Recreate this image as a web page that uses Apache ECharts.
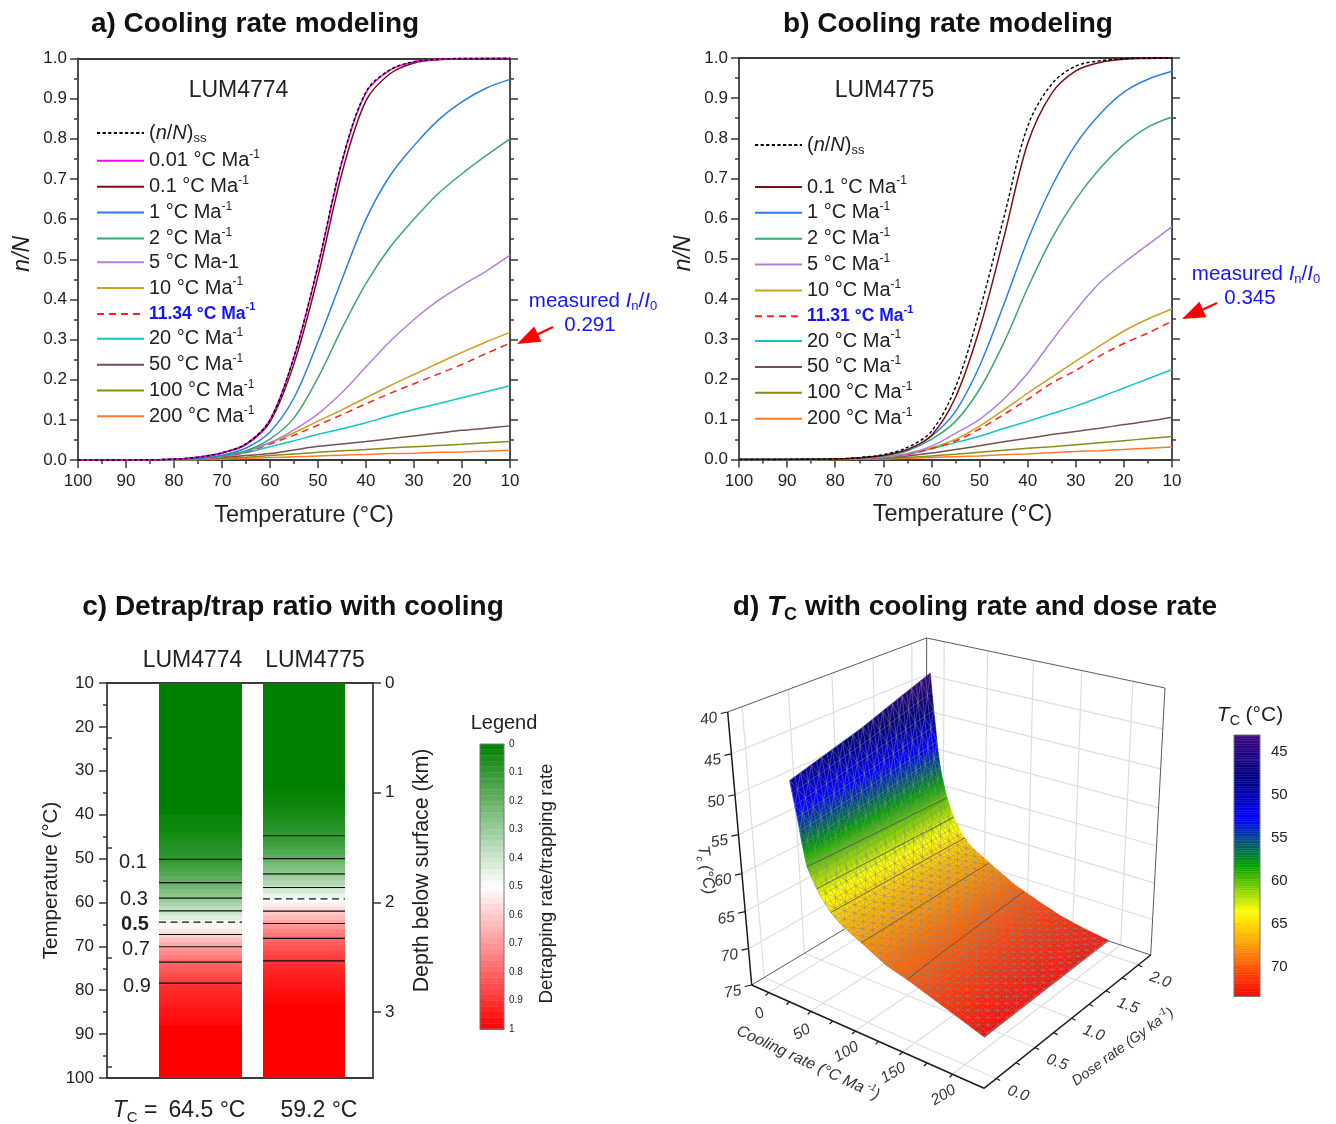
<!DOCTYPE html>
<html>
<head>
<meta charset="utf-8">
<style>html,body{margin:0;padding:0;background:#fff}#c{width:1336px;height:1124px}</style>
<script src="https://cdn.jsdelivr.net/npm/echarts@6/dist/echarts.min.js"></script>
</head>
<body>
<div id="c"></div>
<script>
// ---------- panels a and b: n/N against temperature ----------
const temps = [100,90,80,75,70,65,60,55,50,45,40,35,30,25,20,15,10];
const aSS   = [0,.0003,.002,.007,.018,.04,.1,.258,.485,.745,.917,.972,.992,.998,1,1,1];
const a001  = [0,.0003,.002,.007,.018,.04,.1,.256,.482,.742,.915,.971,.992,.998,1,1,1];
const a01   = [0,.0003,.002,.007,.017,.038,.095,.24,.458,.715,.895,.962,.989,.997,.999,1,1];
const a1    = [0,.0003,.0015,.004,.012,.03,.07,.155,.295,.45,.6,.708,.783,.846,.892,.926,.948];
const a2    = [0,.0002,.001,.004,.01,.023,.052,.105,.205,.328,.44,.53,.6,.663,.713,.758,.8];
const a5    = [0,.0002,.001,.004,.01,.022,.043,.075,.115,.168,.232,.295,.35,.397,.435,.47,.51];
const a10   = [0,.0002,.001,.003,.009,.021,.043,.068,.097,.125,.155,.185,.213,.241,.268,.294,.318];
const aFit  = [0,.0002,.001,.003,.008,.02,.04,.062,.087,.113,.14,.166,.19,.214,.238,.265,.291];
const a20   = [0,.0001,.001,.002,.008,.018,.033,.048,.064,.078,.093,.11,.126,.14,.155,.17,.185];
const a50   = [0,.0001,.0005,.002,.006,.011,.016,.025,.034,.04,.046,.053,.06,.067,.074,.079,.085];
const a100  = [0,.0001,.0003,.001,.004,.007,.011,.015,.019,.023,.026,.03,.033,.036,.039,.043,.046];
const a200  = [0,0,.0002,.001,.002,.004,.006,.008,.01,.012,.014,.016,.017,.019,.02,.022,.024];

const bSS   = [0,.0003,.0015,.005,.012,.03,.07,.18,.37,.6,.83,.935,.98,.993,.998,1,1];
const b01   = [0,.0003,.001,.004,.01,.025,.06,.155,.325,.55,.787,.912,.968,.989,.997,.999,1];
const b1    = [0,.0002,.001,.004,.01,.024,.058,.12,.233,.385,.546,.68,.785,.86,.915,.947,.967];
const b2    = [0,.0002,.001,.004,.009,.022,.05,.095,.175,.29,.427,.55,.648,.725,.785,.828,.853];
const b5    = [0,.0002,.001,.003,.007,.015,.033,.065,.1,.15,.215,.295,.372,.44,.49,.535,.58];
const b10   = [0,.0002,.001,.002,.006,.014,.029,.05,.083,.123,.165,.205,.245,.283,.32,.35,.375];
const bFit  = [0,.0001,.001,.002,.006,.013,.027,.046,.076,.112,.15,.19,.222,.258,.289,.315,.345];
const b20   = [0,.0001,.0005,.002,.005,.012,.027,.042,.058,.077,.095,.114,.133,.155,.178,.201,.224];
const b50   = [0,.0001,.0005,.002,.004,.009,.016,.025,.034,.044,.053,.062,.07,.078,.087,.095,.105];
const b100  = [0,.0001,.0002,.001,.002,.005,.009,.013,.018,.023,.028,.032,.037,.042,.047,.052,.057];
const b200  = [0,0,.0001,.0005,.001,.003,.005,.007,.009,.012,.014,.017,.02,.022,.025,.028,.031];

// ---------- panel c: detrapping/trapping ratio per 1 degree band, starting at 10 degrees ----------
const bandWidth = 1;
const lum4774Ratio = [0,0,0,0,0,0,0,0,0,0,0,0,0,0,0,0,0,0,0,0,0,0,0,0,0,0,0,0,0,0,
  .02,.02,.03,.03,.04,.05,.06,.07,.08,.09,.1,.12,.14,.16,.18,.195,.22,.25,.27,.3,.335,.37,.405,.44,.48,.52,.555,.59,.63,.665,
  .7,.73,.76,.79,.81,.83,.85,.87,.89,.91,.92,.93,.94,.95,.96,.965,.97,.98,1,1,1,1,1,1,1,1,1,1,1,1];
const lum4775Ratio = [0,0,0,0,0,0,0,0,0,0,0,0,0,0,0,0,0,0,0,0,0,0,0,0,
  .01,.01,.02,.02,.03,.04,.05,.06,.07,.08,.095,.105,.12,.14,.16,.18,.205,.235,.26,.29,.32,.35,.385,.42,.46,.495,.535,.57,.605,.64,.675,.71,.74,.77,.8,.82,
  .84,.86,.88,.895,.91,.925,.935,.945,.955,.96,.97,.98,.99,1,1,1,1,1,1,1,1,1,1,1,1,1,1,1,1,1];
const contourLevels = [.1,.2,.3,.4,.5,.6,.7,.8,.9];
const lum4774Contours = [50.2,55.5,59,61.9,64.5,67.3,70.1,73.6,78.4];
const lum4775Contours = [44.8,50,53.5,56.6,59.2,62,64.8,68.2,73.3];

// ---------- panel d: closure temperature surface ----------
const coolRows = [1,2,3,4,5,7.5,10,12.5,15,20,25,30,40,50,75,100,125,150,175,200];
const tcDoseLow  = [49.5,50.3,51,51.8,52.5,54.3,56.5,58.4,60,61.3,62.5,63.5,65,66,67.6,69.2,70.1,71.2,72.3,73.4];
const tcDoseMid  = [46.9,47.9,48.8,49.7,50.6,52.8,55.2,57.1,58.7,60.5,62,63.2,64.9,66,67.7,69.3,70.4,71.5,72.4,73.2];
const tcDoseHigh = [43.4,44.6,45.9,47.1,48.3,50.8,53.6,55.6,57.2,59.6,61.4,62.7,64.7,66,67.8,69.5,70.7,71.8,72.5,73];
const doseCols = [.25,1.1,2];
const coolTicks = [0,50,100,150,200];
const doseTicks = [0,.5,1,1.5,2];
const tempTicks = [40,45,50,55,60,65,70,75];
const tcContours = [60,62.5,65,67.5,70];
const tcBarTicks = [45,50,55,60,65,70];
const tcBarMinor = [47.5,52.5,57.5,62.5,67.5,72.5];

// ---------- style ----------
const FONT = '"Liberation Sans", Arial, sans-serif';
const INK = '#222';
const AX = '#3a3a3a';
const palette = {ss:'#000000',r001:'#ff00ff',r01:'#7d0f0f',r1:'#2a7fe8',r2:'#3aa76d',r5:'#b57edc',r10:'#cf9f20',fit:'#ff1f1f',r20:'#12c4c4',r50:'#7a4f50',r100:'#8b8b18',r200:'#ff7a2a'};
const N = {ss:'(n/N)ss',r001:'0.01 °C Ma-1',r01:'0.1 °C Ma-1',r1:'1 °C Ma-1',r2:'2 °C Ma-1',r5:'5 °C Ma-1',r10:'10 °C Ma-1',r20:'20 °C Ma-1',r50:'50 °C Ma-1',r100:'100 °C Ma-1',r200:'200 °C Ma-1'};
const legendRich = {
  n:{fontSize:20,lineHeight:24,color:INK},
  i:{fontSize:20,lineHeight:24,color:INK,fontStyle:'italic'},
  s:{fontSize:12,lineHeight:13,color:INK,verticalAlign:'top'},
  d:{fontSize:13,lineHeight:13,color:INK,verticalAlign:'bottom'},
  b:{fontSize:17.5,lineHeight:24,color:'#1414ff',fontWeight:'bold'},
  bs:{fontSize:11,lineHeight:13,color:'#1414ff',fontWeight:'bold',verticalAlign:'top'}
};
function legendFmt(name){
  if(name==='(n/N)ss') return '{n|(}{i|n}{n|/}{i|N}{n|)}{d|ss}';
  if(name==='11.34 °C Ma-1'||name==='11.31 °C Ma-1') return '{b|'+name.slice(0,-2)+'}{bs|-1}';
  return '{n|'+name.slice(0,-2)+'}{s|-1}';
}
function legendFmtA(name){ return name==='5 °C Ma-1' ? '{n|5 °C Ma-1}' : legendFmt(name); }

function lineSeries(name,vals,color,axis,dash,width){
  return {type:'line',name:name,xAxisIndex:axis.x,yAxisIndex:axis.y,
    data:temps.map((t,i)=>[t,vals[i]]),smooth:.33,symbol:'none',showSymbol:false,
    lineStyle:{color:color,width:width||1.5,type:dash||'solid'},itemStyle:{color:color},
    animation:false,silent:true,clip:false,z:3};
}
const dashSS=[3.2,2.4], dashFit=[7,5];
const axA={x:0,y:0}, axB={x:2,y:2};
const seriesA=[
  lineSeries(N.r200,a200,palette.r200,axA),lineSeries(N.r100,a100,palette.r100,axA),lineSeries(N.r50,a50,palette.r50,axA),
  lineSeries(N.r20,a20,palette.r20,axA),lineSeries(N.r10,a10,palette.r10,axA),lineSeries('11.34 °C Ma-1',aFit,palette.fit,axA,dashFit),
  lineSeries(N.r5,a5,palette.r5,axA),lineSeries(N.r2,a2,palette.r2,axA),lineSeries(N.r1,a1,palette.r1,axA),
  lineSeries(N.r01,a01,palette.r01,axA),lineSeries(N.r001,a001,palette.r001,axA,null,1.6),lineSeries(N.ss,aSS,palette.ss,axA,dashSS,1.4)
];
const seriesB=[
  lineSeries(N.r200,b200,palette.r200,axB),lineSeries(N.r100,b100,palette.r100,axB),lineSeries(N.r50,b50,palette.r50,axB),
  lineSeries(N.r20,b20,palette.r20,axB),lineSeries(N.r10,b10,palette.r10,axB),lineSeries('11.31 °C Ma-1',bFit,palette.fit,axB,dashFit),
  lineSeries(N.r5,b5,palette.r5,axB),lineSeries(N.r2,b2,palette.r2,axB),lineSeries(N.r1,b1,palette.r1,axB),
  lineSeries(N.r01,b01,palette.r01,axB),lineSeries(N.ss,bSS,palette.ss,axB,dashSS,1.4)
];
function legendBlock(left,top,names,fmt){
  return {left:left,top:top,orient:'vertical',padding:0,itemWidth:47,itemHeight:14,itemGap:3.85,
    itemStyle:{color:'transparent',borderColor:'transparent',borderWidth:0,opacity:0},
    selectedMode:false,formatter:fmt,textStyle:{fontFamily:FONT,rich:legendRich},data:names.map(n=>({name:n}))};
}

// ---------- axes helpers ----------
const tickLab={color:INK,fontSize:17,fontFamily:FONT};
const axLine=(w)=>({show:true,onZero:false,lineStyle:{color:AX,width:w||1.8}});
function tempAxisX(grid,name,shift){
  return {type:'value',gridIndex:grid,position:'bottom',inverse:true,min:10,max:100,interval:10,
    name:name,nameLocation:'middle',nameGap:44,nameTextStyle:{color:INK,fontSize:23.4,fontFamily:FONT,padding:[0,0,0,shift]},
    axisLine:axLine(),axisTick:{show:true,length:8,inside:false,lineStyle:{color:AX,width:1.5}},
    minorTick:{show:true,splitNumber:2,length:4,lineStyle:{color:AX,width:1.5}},
    axisLabel:Object.assign({margin:13,hideOverlap:false,showMinLabel:true,showMaxLabel:true},tickLab),splitLine:{show:false},minorSplitLine:{show:false}};
}
function lineOnlyX(grid,pos,color,w){
  return {type:'value',gridIndex:grid,position:pos,min:0,max:1,axisLine:{show:true,onZero:false,lineStyle:{color:color||AX,width:w||1.8}},axisTick:{show:false},axisLabel:{show:false},splitLine:{show:false}};
}
function nAxisY(grid,pos,showLabel){
  return {type:'value',gridIndex:grid,position:pos,min:0,max:1,interval:.1,
    name:showLabel?'n/N':'',nameLocation:'middle',nameGap:44,nameRotate:90,nameTextStyle:{color:INK,fontSize:23,fontStyle:'italic',fontFamily:FONT,padding:[0,0,0,11]},
    axisLine:axLine(),axisTick:{show:true,length:8,lineStyle:{color:AX,width:1.5}},
    minorTick:{show:true,splitNumber:2,length:4,lineStyle:{color:AX,width:1.5}},
    axisLabel:Object.assign({show:showLabel,margin:11,formatter:v=>v.toFixed(1)},tickLab),splitLine:{show:false},minorSplitLine:{show:false}};
}

// ---------- colour scales ----------
function hexLerp(a,b,t){return [0,1,2].map(i=>Math.round(a[i]+(b[i]-a[i])*t));}
function ratioColor(r){
  const c=r<.5?hexLerp([0,128,0],[255,255,255],r/.5):hexLerp([255,255,255],[255,0,0],(r-.5)/.5);
  return 'rgb('+c.join(',')+')';
}
const tcStops=[[43.1,[60,8,130]],[48,[0,0,128]],[52.8,[0,0,255]],[58.2,[0,160,0]],[63.6,[255,255,0]],[73.44,[255,0,0]]];
function tcColor(t){
  if(t<=tcStops[0][0]) return 'rgb('+tcStops[0][1].join(',')+')';
  for(let i=1;i<tcStops.length;i++){ if(t<=tcStops[i][0]){
    const c=hexLerp(tcStops[i-1][1],tcStops[i][1],(t-tcStops[i-1][0])/(tcStops[i][0]-tcStops[i-1][0]));
    return 'rgb('+c.join(',')+')';}}
  return 'rgb(255,0,0)';
}

// ---------- panel c series ----------
const columnSpan=[[52,135],[156,238]];
function bandData(arr,col){return arr.map((r,i)=>[col,10+i*bandWidth,10+(i+1)*bandWidth,r]);}
const seriesBands={type:'custom',xAxisIndex:4,yAxisIndex:4,animation:false,silent:true,clip:true,z:2,progressive:0,
  data:bandData(lum4774Ratio,0).concat(bandData(lum4775Ratio,1)),
  renderItem(p,api){
    const s=columnSpan[api.value(0)];
    const a=api.coord([s[0],api.value(1)]),b=api.coord([s[1],api.value(2)+.3]);
    return {type:'rect',shape:{x:a[0],y:a[1],width:b[0]-a[0],height:b[1]-a[1]},style:{fill:ratioColor(api.value(3))}};
  }};
const seriesContours={type:'custom',xAxisIndex:4,yAxisIndex:4,animation:false,silent:true,clip:false,z:3,progressive:0,
  data:lum4774Contours.map((t,i)=>[0,t,contourLevels[i]]).concat(lum4775Contours.map((t,i)=>[1,t,contourLevels[i]])),
  renderItem(p,api){
    const s=columnSpan[api.value(0)],t=api.value(1),mid=api.value(2)===.5;
    const a=api.coord([s[0],t]),b=api.coord([s[1],t]);
    return {type:'line',shape:{x1:a[0],y1:a[1],x2:b[0],y2:b[1]},style:{stroke:'#111',lineWidth:1.2,lineDash:mid?[7,4.5]:null,fill:null}};
  }};

// ---------- colour bars ----------
const ratioLevels=[];for(let r=0;r<1;r+=.02)ratioLevels.push(+r.toFixed(2));
const tcLevels=[];for(let t=43.1;t<73.44;t+=.2)tcLevels.push(+t.toFixed(2));
function barSeries(xi,yi,levels,step,colorFn,lo,hi){
  return [{type:'custom',xAxisIndex:xi,yAxisIndex:yi,animation:false,silent:true,clip:true,z:2,progressive:0,
    data:levels.map(l=>[l]),
    renderItem(p,api){const l=api.value(0);
      const a=api.coord([0,l]),b=api.coord([1,Math.min(l+step,hi)]);const c=colorFn(l+step/2);
      return {type:'rect',shape:{x:a[0],y:a[1],width:b[0]-a[0],height:b[1]-a[1]},style:{fill:c,stroke:c,lineWidth:.4}};}},
   {type:'custom',xAxisIndex:xi,yAxisIndex:yi,animation:false,silent:true,clip:false,z:3,data:[[lo,hi]],
    renderItem(p,api){const a=api.coord([0,api.value(0)]),b=api.coord([1,api.value(1)]);
      return {type:'rect',shape:{x:a[0],y:a[1],width:b[0]-a[0],height:b[1]-a[1]},style:{fill:null,stroke:'#777',lineWidth:1}};}}];
}

// ---------- panel d: projection of the 3D box ----------
const coolLo=-21,coolHi=230,doseLo=-.15,doseHi=2.2,tFloor=75,tTop=40;
const corners={'000':[751.7,985],'100':[984,1088.3],'110':[1150.7,955],'010':[926,880],'001':[727.7,712],'011':[926.7,638],'111':[1165,688],'101':[980,778]};
const hU=-.136,hV=.135,hW=-.08;
function project(c,d,t){
  const u=(c-coolLo)/(coolHi-coolLo),v=(d-doseLo)/(doseHi-doseLo),w=(tFloor-t)/(tFloor-tTop);
  let nx=0,ny=0,den=0;
  for(const k in corners){
    const iu=+k[0],iv=+k[1],iw=+k[2];
    const B=(iu?u:1-u)*(iv?v:1-v)*(iw?w:1-w);
    const h=1+hU*iu+hV*iv+hW*iw;
    nx+=B*h*corners[k][0];ny+=B*h*corners[k][1];den+=B*h;
  }
  return [nx/den,ny/den];
}
function surfaceT(c,d){
  let i=0;while(i<coolRows.length-2&&c>coolRows[i+1])i++;
  const f=(c-coolRows[i])/(coolRows[i+1]-coolRows[i]);
  const at=a=>a[i]+(a[i+1]-a[i])*f;
  const lo=at(tcDoseLow),mi=at(tcDoseMid),hi=at(tcDoseHigh);
  return d<=doseCols[1]?lo+(mi-lo)*(d-doseCols[0])/(doseCols[1]-doseCols[0]):mi+(hi-mi)*(d-doseCols[1])/(doseCols[2]-doseCols[1]);
}
const fineCool=[],fineDose=[],meshCool=[],meshDose=[];
const doseSpan=doseCols[2]-doseCols[0];
for(let c=1;c<20;c+=.5)fineCool.push(c);for(let c=20;c<=200;c+=2)fineCool.push(c);
for(let i=0;i<=14;i++)fineDose.push(doseCols[0]+i*doseSpan/14);
for(let c=1;c<19;c+=2)meshCool.push(c);for(let c=19;c<=200;c+=5)meshCool.push(c);if(meshCool[meshCool.length-1]<200)meshCool.push(200);
for(let i=0;i<=28;i++)meshDose.push(doseCols[0]+i*doseSpan/28);
const cellData=[];
for(let j=fineDose.length-2;j>=0;j--)for(let i=0;i<fineCool.length-1;i++)cellData.push([fineCool[i],fineCool[i+1],fineDose[j],fineDose[j+1]]);
const meshData=[];
meshCool.forEach((c,i)=>{for(let j=0;j<meshDose.length-1;j++){
  meshData.push([c,meshDose[j],c,meshDose[j+1]]);
  if(i<meshCool.length-1){
    meshData.push([c,meshDose[j],meshCool[i+1],meshDose[j]]);
    if((i+j)%2===0)meshData.push([c,meshDose[j],meshCool[i+1],meshDose[j+1]]);
    else meshData.push([c,meshDose[j+1],meshCool[i+1],meshDose[j]]);
  }
}});
const boxLines=[];
const seg=(a,b,k)=>boxLines.push([a[0],a[1],a[2],b[0],b[1],b[2],k]);
doseTicks.forEach(d=>{seg([coolLo,d,tFloor],[coolLo,d,tTop],0);seg([coolLo,d,tFloor],[coolHi,d,tFloor],0);});
coolTicks.forEach(c=>{seg([c,doseHi,tFloor],[c,doseHi,tTop],0);seg([c,doseLo,tFloor],[c,doseHi,tFloor],0);});
tempTicks.slice(1,-1).forEach(t=>{seg([coolLo,doseLo,t],[coolLo,doseHi,t],0);seg([coolLo,doseHi,t],[coolHi,doseHi,t],0);});
seg([coolLo,doseLo,tTop],[coolLo,doseHi,tTop],1);seg([coolLo,doseHi,tTop],[coolHi,doseHi,tTop],1);
seg([coolLo,doseHi,tFloor],[coolLo,doseHi,tTop],1);seg([coolHi,doseHi,tFloor],[coolHi,doseHi,tTop],1);
seg([coolLo,doseLo,tFloor],[coolLo,doseHi,tFloor],1);seg([coolLo,doseHi,tFloor],[coolHi,doseHi,tFloor],1);
seg([coolLo,doseLo,tFloor],[coolLo,doseLo,tTop],2);seg([coolLo,doseLo,tFloor],[coolHi,doseLo,tFloor],2);seg([coolHi,doseLo,tFloor],[coolHi,doseHi,tFloor],2);
const boxStyles=[{stroke:'#dddddd',lineWidth:1.2},{stroke:'#5a5a5a',lineWidth:1},{stroke:'#1a1a1a',lineWidth:1.5}];
function px(api,c,d,t){return api.coord(project(c,d,t));}
const pixelAxes={xAxisIndex:8,yAxisIndex:8,animation:false,silent:true,clip:false,progressive:0};
const seriesBox=Object.assign({type:'custom',z:1,data:boxLines,renderItem(p,api){
  const a=px(api,api.value(0),api.value(1),api.value(2)),b=px(api,api.value(3),api.value(4),api.value(5));
  return {type:'line',shape:{x1:a[0],y1:a[1],x2:b[0],y2:b[1]},style:Object.assign({fill:null},boxStyles[api.value(6)])};
}},pixelAxes);
const seriesSurface=Object.assign({type:'custom',z:2,data:cellData,renderItem(p,api){
  const c0=api.value(0),c1=api.value(1),d0=api.value(2),d1=api.value(3);
  const pts=[px(api,c0,d0,surfaceT(c0,d0)),px(api,c1,d0,surfaceT(c1,d0)),px(api,c1,d1,surfaceT(c1,d1)),px(api,c0,d1,surfaceT(c0,d1))];
  const col=tcColor(surfaceT((c0+c1)/2,(d0+d1)/2));
  return {type:'polygon',shape:{points:pts},style:{fill:col,stroke:col,lineWidth:.6}};
}},pixelAxes);
const seriesMesh=Object.assign({type:'custom',z:3,data:meshData,renderItem(p,api){
  const c0=api.value(0),d0=api.value(1),c1=api.value(2),d1=api.value(3);
  const a=px(api,c0,d0,surfaceT(c0,d0)),b=px(api,c1,d1,surfaceT(c1,d1));
  return {type:'line',shape:{x1:a[0],y1:a[1],x2:b[0],y2:b[1]},style:{stroke:'rgba(135,135,135,.72)',lineWidth:.65,fill:null}};
}},pixelAxes);
const seriesIso=Object.assign({type:'custom',z:4,data:tcContours.map(t=>[t]),renderItem(p,api){
  const lvl=api.value(0),pts=[];
  meshDose.forEach(d=>{for(let i=0;i<fineCool.length-1;i++){
    const a=surfaceT(fineCool[i],d),b=surfaceT(fineCool[i+1],d);
    if(a<=lvl&&b>=lvl){const c=fineCool[i]+(fineCool[i+1]-fineCool[i])*(lvl-a)/(b-a);pts.push(px(api,c,d,lvl));break;}
  }});
  return {type:'polyline',shape:{points:pts},style:{stroke:'rgba(70,70,70,.75)',lineWidth:1,fill:null}};
}},pixelAxes);
const tickSeg=(xs,fn,dx,dy)=>xs.map(v=>fn(v).concat([dx,dy]));
const tickData=[]
  .concat(tickSeg([40,45,50,55,60,65,70,75],t=>[coolLo,doseLo,t],-7,1.5))
  .concat(tickSeg([0,25,50,75,100,125,150,175,200],c=>[c,doseLo,tFloor],-3,3))
  .concat(tickSeg([0,.25,.5,.75,1,1.25,1.5,1.75,2],d=>[coolHi,d,tFloor],4,2));
const seriesTicks=Object.assign({type:'custom',z:4,data:tickData,renderItem(p,api){
  const a=px(api,api.value(0),api.value(1),api.value(2)),dx=api.value(3),dy=api.value(4);
  return {type:'line',shape:{x1:a[0],y1:a[1],x2:a[0]+dx,y2:a[1]+dy},style:{stroke:'#1a1a1a',lineWidth:1.2,fill:null}};
}},pixelAxes);
function axisLabelSeries(values,anchor,dx,dy,rotDeg,fmt){
  return Object.assign({type:'custom',z:5,data:values.map(v=>[v]),renderItem(p,api){
    const v=api.value(0),a=api.coord(anchor(v));
    return {type:'text',x:a[0]+dx,y:a[1]+dy,rotation:rotDeg*Math.PI/180,style:{text:fmt(v),fontSize:15.5,fontStyle:'italic',fontFamily:FONT,fill:'#333',align:'center',verticalAlign:'middle'}};
  }},pixelAxes);
}
const seriesTempLabels=axisLabelSeries(tempTicks,t=>project(coolLo,doseLo,t),-19,7,10,v=>String(v));
const seriesCoolLabels=axisLabelSeries(coolTicks,c=>project(c,doseLo,tFloor),-9,21,30,v=>String(v));
const seriesDoseLabels=axisLabelSeries(doseTicks,d=>project(coolHi,d,tFloor),22,15,-20,v=>v.toFixed(1));

// ---------- annotations ----------
function txt(x,y,text,opt){
  return {type:'text',x:x,y:y,rotation:(opt&&opt.rot||0)*Math.PI/180,silent:true,z:20,
    style:Object.assign({text:text,fontSize:20,fontFamily:FONT,fill:INK,align:'center',verticalAlign:'middle'},opt&&opt.style)};
}
function arrow(x0,y0,x1,y1){
  const L=Math.hypot(x1-x0,y1-y0),ux=(x1-x0)/L,uy=(y1-y0)/L,hl=23,hw=8.5;
  const bx=x1-ux*hl,by=y1-uy*hl;
  return [{type:'line',silent:true,z:20,shape:{x1:x0,y1:y0,x2:bx,y2:by},style:{stroke:'#ff0000',lineWidth:2.2}},
    {type:'polygon',silent:true,z:20,shape:{points:[[x1,y1],[bx-uy*hw,by+ux*hw],[bx+uy*hw,by-ux*hw]]},style:{fill:'#ff0000'}}];
}
const blue='#1414ff';
const measuredRich={n:{fontSize:20.5,lineHeight:24,fill:blue,fontFamily:FONT},i:{fontSize:20.5,lineHeight:24,fill:blue,fontStyle:'italic',fontFamily:FONT},s:{fontSize:13,lineHeight:13,fill:blue,verticalAlign:'bottom',fontFamily:FONT}};
const measuredText='{n|measured }{i|I}{s|n}{n|/}{i|I}{s|0}';
const subRich={n:{fontSize:23,lineHeight:28,fill:INK,fontFamily:FONT},i:{fontSize:23,lineHeight:28,fill:INK,fontStyle:'italic',fontFamily:FONT},s:{fontSize:15,lineHeight:15,fill:INK,verticalAlign:'bottom',fontFamily:FONT}};
function axisRich(sz){const a={fontSize:sz,lineHeight:20,fill:'#333',fontFamily:FONT,fontStyle:'italic'};
  return {n:a,s:{fontSize:10,lineHeight:10,fill:'#333',verticalAlign:'top',fontFamily:FONT,fontStyle:'italic'},d:{fontSize:10,lineHeight:10,fill:'#333',verticalAlign:'bottom',fontFamily:FONT,fontStyle:'italic'}};}
const graphics=[
  txt(238.5,91,'LUM4774',{style:{fontSize:23}}),
  txt(593,301,measuredText,{style:{rich:measuredRich}}),
  txt(590,325,'0.291',{style:{fontSize:20.5,fill:blue}}),
  ...arrow(553,327,517,344),
  txt(884.5,91,'LUM4775',{style:{fontSize:23}}),
  txt(1256,274,measuredText,{style:{rich:measuredRich}}),
  txt(1250,298,'0.345',{style:{fontSize:20.5,fill:blue}}),
  ...arrow(1217,303,1182,319),
  txt(192.5,661,'LUM4774',{style:{fontSize:23}}),
  txt(315,661,'LUM4775',{style:{fontSize:23}}),
  txt(133,862,'0.1'),txt(134,899,'0.3'),txt(135,924,'0.5',{style:{fontWeight:'bold'}}),txt(136,949,'0.7'),txt(137,986,'0.9'),
  txt(135,1111,'{i|T}{s|C}{n| =}',{style:{rich:subRich}}),
  txt(207,1111,'64.5 °C',{style:{fontSize:23}}),
  txt(319,1111,'59.2 °C',{style:{fontSize:23}}),
  txt(504,723,'Legend',{style:{fontSize:20}}),
  txt(1250,715,'{i|T}{s|C}{n| (°C)}',{style:{rich:{n:{fontSize:21,lineHeight:26,fill:INK,fontFamily:FONT},i:{fontSize:21,lineHeight:26,fill:INK,fontStyle:'italic',fontFamily:FONT},s:{fontSize:14,lineHeight:14,fill:INK,verticalAlign:'bottom',fontFamily:FONT}}}}),
  txt(808,1063,'{n|Cooling rate (°C Ma}{s| -1}{n|)}',{rot:-25,style:{rich:axisRich(15.8)}}),
  txt(1123,1047,'{n|Dose rate (Gy ka}{s|-1}{n|)}',{rot:36,style:{rich:axisRich(14.3)}}),
  txt(706,870,'{n|T}{d|c}{n| (°C)}',{rot:-82,style:{rich:axisRich(16.5)}})
];
const titleRich={b:{fontSize:28,fontWeight:'bold',color:'#111',lineHeight:34},i:{fontSize:28,fontWeight:'bold',fontStyle:'italic',color:'#111',lineHeight:34},s:{fontSize:18,fontWeight:'bold',color:'#111',lineHeight:18,verticalAlign:'bottom'}};
function mkTitle(text,x,y){return {text:text,left:x,top:y,textAlign:'center',padding:0,textStyle:{fontFamily:FONT,rich:titleRich}};}

// ---------- option ----------
const option={
  backgroundColor:'#fff',animation:false,textStyle:{fontFamily:FONT},
  title:[
    mkTitle('{b|a) Cooling rate modeling}',255,7),
    mkTitle('{b|b) Cooling rate modeling}',948,7),
    mkTitle('{b|c) Detrap/trap ratio with cooling}',293,590),
    mkTitle('{b|d) }{i|T}{s|C}{b| with cooling rate and dose rate}',975,590)
  ],
  legend:[
    legendBlock(96,123,[N.ss,N.r001,N.r01,N.r1,N.r2,N.r5,N.r10,'11.34 °C Ma-1',N.r20,N.r50,N.r100,N.r200],legendFmtA),
    legendBlock(754,135,[N.ss],legendFmt),
    legendBlock(754,175,[N.r01,N.r1,N.r2,N.r5,N.r10,'11.31 °C Ma-1',N.r20,N.r50,N.r100,N.r200],legendFmt)
  ],
  grid:[
    {left:78,top:58.5,width:432,height:401.5},
    {left:739,top:58,width:433,height:401.5},
    {left:107,top:683,width:266,height:395},
    {left:480,top:744,width:24,height:285},
    {left:0,top:0,width:1336,height:1124},
    {left:1234,top:735,width:26,height:261.5}
  ],
  xAxis:[
    tempAxisX(0,'Temperature (°C)',20),lineOnlyX(0,'top'),
    tempAxisX(1,'Temperature (°C)',14),lineOnlyX(1,'top'),
    Object.assign(lineOnlyX(2,'bottom'),{max:266}),Object.assign(lineOnlyX(2,'top'),{max:266}),
    lineOnlyX(3,'bottom','#777',1),lineOnlyX(3,'top','#777',1),
    {type:'value',gridIndex:4,min:0,max:1336,show:false},
    lineOnlyX(5,'bottom','#777',1),lineOnlyX(5,'top','#777',1)
  ],
  yAxis:[
    nAxisY(0,'left',true),nAxisY(0,'right',false),
    nAxisY(1,'left',true),nAxisY(1,'right',false),
    {type:'value',gridIndex:2,position:'left',inverse:true,min:10,max:100,interval:10,
      name:'Temperature (°C)',nameLocation:'middle',nameGap:44,nameRotate:90,nameTextStyle:{color:INK,fontSize:20.5,fontFamily:FONT},
      axisLine:axLine(),axisTick:{show:true,length:8,lineStyle:{color:AX,width:1.5}},
      minorTick:{show:true,splitNumber:2,length:4,lineStyle:{color:AX,width:1.5}},
      axisLabel:Object.assign({margin:13},tickLab),splitLine:{show:false},minorSplitLine:{show:false}},
    {type:'value',gridIndex:2,position:'right',inverse:true,min:0,max:3.6,
      name:'Depth below surface (km)',nameLocation:'middle',nameGap:39,nameRotate:90,nameTextStyle:{color:INK,fontSize:21.4,fontFamily:FONT,padding:[0,0,0,20]},
      axisLine:axLine(),axisTick:{show:true,length:8,customValues:[0,1,2,3],lineStyle:{color:AX,width:1.5}},
      axisLabel:Object.assign({margin:12,customValues:[0,1,2,3]},tickLab),splitLine:{show:false}},
    {type:'value',gridIndex:2,position:'right',inverse:true,min:0,max:3.6,axisLine:{show:false},
      axisTick:{show:true,length:5,customValues:[.5,1.5,2.5,3.5],lineStyle:{color:AX,width:1.5}},
      axisLabel:{show:false},splitLine:{show:false}},
    {type:'value',gridIndex:3,position:'right',inverse:true,min:0,max:1,interval:.1,
      axisLine:{show:false},axisTick:{show:true,length:5,lineStyle:{color:'#666',width:1}},
      axisLabel:{color:INK,fontSize:10,margin:5,fontFamily:FONT,formatter:v=>String(+v.toFixed(1))},splitLine:{show:false},
      name:'Detrapping rate/trapping rate',nameLocation:'middle',nameGap:33,nameRotate:90,nameTextStyle:{color:INK,fontSize:18.8,fontFamily:FONT,padding:[0,0,0,6]}},
    {type:'value',gridIndex:4,min:0,max:1124,inverse:true,show:false},
    {type:'value',gridIndex:5,position:'right',inverse:true,min:43.1,max:73.44,axisLine:{show:false},
      axisTick:{show:true,length:7,customValues:tcBarTicks,lineStyle:{color:'#555',width:1}},
      axisLabel:{color:INK,fontSize:15,margin:11,fontFamily:FONT,customValues:tcBarTicks},splitLine:{show:false}},
    {type:'value',gridIndex:5,position:'right',inverse:true,min:43.1,max:73.44,axisLine:{show:false},
      axisTick:{show:true,length:3.5,customValues:tcBarMinor,lineStyle:{color:'#555',width:1}},
      axisLabel:{show:false},splitLine:{show:false}}
  ],
  series:[].concat(seriesA,seriesB,[seriesBands,seriesContours],
    barSeries(6,7,ratioLevels,.02,ratioColor,0,1),
    barSeries(9,9,tcLevels,.2,tcColor,43.1,73.44),
    [seriesBox,seriesSurface,seriesMesh,seriesIso,seriesTicks,seriesTempLabels,seriesCoolLabels,seriesDoseLabels]),
  graphic:{elements:graphics}
};
const chart=echarts.init(document.getElementById('c'),null,{renderer:'canvas'});
chart.setOption(option);
</script>
</body>
</html>
